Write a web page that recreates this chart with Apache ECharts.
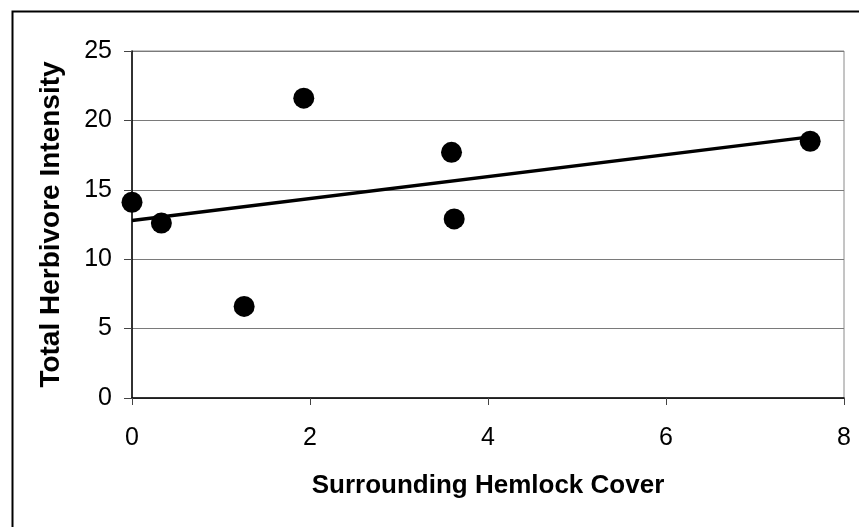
<!DOCTYPE html>
<html>
<head>
<meta charset="utf-8">
<script src="https://cdn.jsdelivr.net/npm/echarts@6/dist/echarts.min.js"></script>
<style>
  html, body { margin: 0; padding: 0; background: #fff; }
  #chart { width: 859px; height: 527px; }
</style>
</head>
<body>
<div id="chart"></div>
<script>
// Surrounding hemlock cover vs. total herbivore intensity, per site
const hemlockCover = [0.0, 0.33, 1.26, 1.93, 3.59, 3.62, 7.62];
const herbivoreIntensity = [14.1, 12.6, 6.6, 21.6, 17.7, 12.9, 18.5];
const xTicks = [0, 2, 4, 6, 8];
const yTicks = [0, 5, 10, 15, 20, 25];

// Ordinary least-squares trend line over the observed cover range
function linearFit(xs, ys) {
  const n = xs.length;
  const mx = xs.reduce((a, b) => a + b, 0) / n;
  const my = ys.reduce((a, b) => a + b, 0) / n;
  let sxy = 0, sxx = 0;
  for (let i = 0; i < n; i++) {
    sxy += (xs[i] - mx) * (ys[i] - my);
    sxx += (xs[i] - mx) * (xs[i] - mx);
  }
  const slope = sxy / sxx;
  return { slope, intercept: my - slope * mx };
}
const fit = linearFit(hemlockCover, herbivoreIntensity);
const xLo = Math.min(...hemlockCover);
const xHi = Math.max(...hemlockCover);
const trendPoints = [
  [xLo, fit.intercept + fit.slope * xLo],
  [xHi, fit.intercept + fit.slope * xHi]
];

const points = hemlockCover.map((x, i) => [x, herbivoreIntensity[i]]);
const FONT = '"Liberation Sans", Arial, sans-serif';

const chart = echarts.init(document.getElementById('chart'), null, { renderer: 'canvas' });
chart.setOption({
  animation: false,
  backgroundColor: '#fff',
  graphic: [{
    type: 'rect',
    left: 10, top: 9,
    shape: { width: 870, height: 540 },
    style: { fill: 'none', stroke: '#000', lineWidth: 2 },
    silent: true, z: -1
  }],
  grid: {
    left: 132, right: 15, top: 51, bottom: 129,
    show: true, borderColor: '#8a8a8a', borderWidth: 1
  },
  xAxis: {
    type: 'value',
    min: xTicks[0], max: xTicks[xTicks.length - 1], interval: 2,
    name: 'Surrounding Hemlock Cover',
    nameLocation: 'middle', nameGap: 75,
    nameTextStyle: { fontFamily: FONT, fontSize: 26, fontWeight: 'bold', color: '#000' },
    axisLine: { show: true, onZero: false, lineStyle: { color: '#000', width: 1.5 } },
    axisTick: { show: true, length: 7, lineStyle: { color: '#444', width: 1 } },
    axisLabel: { fontFamily: FONT, fontSize: 25, color: '#000', margin: 28 },
    splitLine: { show: false }
  },
  yAxis: {
    type: 'value',
    min: yTicks[0], max: yTicks[yTicks.length - 1], interval: 5,
    name: 'Total Herbivore Intensity',
    nameLocation: 'middle', nameGap: 67, nameRotate: 90,
    nameTextStyle: { fontFamily: FONT, fontSize: 28, fontWeight: 'bold', color: '#000' },
    axisLine: { show: true, onZero: false, lineStyle: { color: '#000', width: 1.5 } },
    axisTick: { show: true, length: 8, lineStyle: { color: '#444', width: 1 } },
    axisLabel: { fontFamily: FONT, fontSize: 25, color: '#000', margin: 20 },
    splitLine: { show: true, lineStyle: { color: '#7a7a7a', width: 1 } }
  },
  series: [
    {
      type: 'line',
      data: trendPoints,
      symbol: 'none',
      lineStyle: { color: '#000', width: 3.5 },
      z: 2
    },
    {
      type: 'scatter',
      data: points,
      symbol: 'circle',
      symbolSize: 21,
      itemStyle: { color: '#000', opacity: 1 },
      z: 3
    }
  ]
});
</script>
</body>
</html>
